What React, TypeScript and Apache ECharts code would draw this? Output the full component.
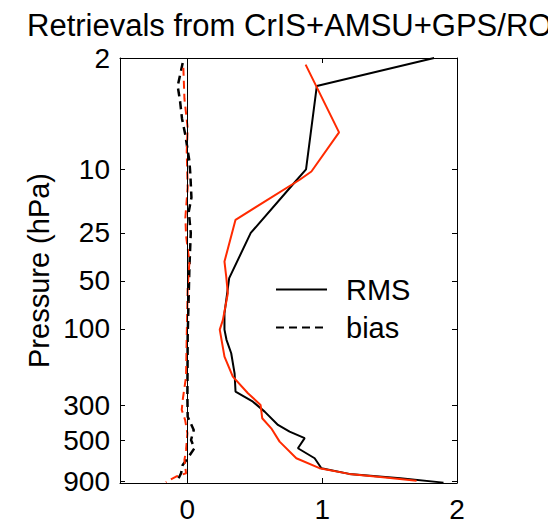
import React, { useEffect, useRef } from "react";
import * as echarts from "echarts";

const chartTitle = "Retrievals from CrIS+AMSU+GPS/RO";
const yAxisName = "Pressure (hPa)";
const pressureTicks = [2, 10, 25, 50, 100, 300, 500, 900];
const xTicks = [0, 1, 2];
const legendNames = ["RMS", "bias"];

// black: RMS (solid) and bias (dashed)
const blackRmsP = [2, 3, 10, 12.2, 25, 48, 80, 101, 117, 142, 190, 247, 286, 330, 400, 441, 484, 560, 647, 747, 811, 863, 920];
const blackRmsV = [1.83, 0.96, 0.88, 0.79, 0.47, 0.31, 0.275, 0.275, 0.29, 0.325, 0.35, 0.357, 0.486, 0.573, 0.672, 0.758, 0.87, 0.82, 0.944, 0.994, 1.2, 1.58, 1.9];
const blackBiasP = [2.15, 3.0, 3.75, 4.8, 6.1, 8.9, 10.8, 15, 18.4, 25, 41, 112, 266, 355, 430, 497, 560, 647, 713, 804, 888];
const blackBiasV = [-0.035, -0.072, -0.054, -0.04, -0.015, 0.015, 0.022, 0.03, 0.01, 0.025, 0.015, 0.002, 0.0, 0.002, 0.047, 0.027, 0.052, 0.002, -0.035, -0.047, -0.072];

// red: RMS (solid) and bias (dashed)
const redRmsP = [2.2, 5.85, 10.3, 11.6, 20.7, 37.8, 47, 59.8, 88, 101, 149, 199, 253, 300, 363, 420, 509, 647, 747, 811, 851, 894];
const redRmsV = [0.877, 1.125, 0.92, 0.833, 0.357, 0.275, 0.288, 0.3, 0.263, 0.24, 0.275, 0.337, 0.449, 0.543, 0.555, 0.622, 0.684, 0.808, 0.98, 1.2, 1.45, 1.7];
const redBiasP = [2.3, 3.6, 5.5, 7.7, 13, 20, 26, 38, 55, 112, 199, 279, 322, 372, 451, 574, 663, 804, 843, 915];
const redBiasV = [-0.03, -0.022, 0.002, -0.005, 0.002, -0.015, -0.01, 0.015, 0.002, -0.005, -0.01, -0.035, -0.042, -0.017, 0, -0.01, -0.022, -0.01, -0.084, -0.16];

const FONT = "Liberation Sans";
const BLACK = "#000000";
const RED = "#ff2a00";

function pairs(v: number[], p: number[]) {
  return v.map((x, i) => [x, p[i]]);
}

export default function App() {
  const ref = useRef<HTMLDivElement>(null);
  useEffect(() => {
    if (!ref.current) return;
    const chart = echarts.init(ref.current, undefined, { renderer: "svg" });
    const axisLine = { show: true, onZero: false, lineStyle: { color: BLACK, width: 1 } };
    const xTick = { show: true, inside: true, length: 5, customValues: xTicks, lineStyle: { color: BLACK } };
    const yTick = { show: true, inside: true, length: 5, customValues: pressureTicks, lineStyle: { color: BLACK } };
    const labelStyle = { fontFamily: FONT, fontSize: 28, color: BLACK };
    chart.setOption({
      animation: false,
      backgroundColor: "#ffffff",
      title: {
        text: chartTitle,
        left: 22,
        top: 5,
        textStyle: { fontFamily: FONT, fontSize: 31, fontWeight: "normal", color: BLACK },
      },
      grid: { left: 120, right: 91, top: 58, bottom: 45 },
      legend: {
        data: legendNames,
        orient: "vertical",
        left: 270,
        top: 270,
        itemWidth: 51,
        itemHeight: 14,
        itemGap: 9,
        itemStyle: { opacity: 0 },
        textStyle: { fontFamily: FONT, fontSize: 29, color: BLACK, padding: [0, 0, 0, 14] },
      },
      xAxis: [
        {
          type: "value", min: -0.5, max: 2, position: "bottom",
          axisLine, axisTick: xTick,
          axisLabel: { ...labelStyle, customValues: xTicks, margin: 12 },
          splitLine: { show: false },
        },
        {
          type: "value", min: -0.5, max: 2, position: "top",
          axisLine, axisTick: xTick,
          axisLabel: { show: false },
          splitLine: { show: false },
        },
      ],
      yAxis: [
        {
          type: "log", logBase: 10, inverse: true, min: 2, max: 925, position: "left",
          axisLine, axisTick: yTick,
          axisLabel: { ...labelStyle, customValues: pressureTicks, margin: 10 },
          minorTick: { show: false },
          splitLine: { show: false },
          name: yAxisName,
          nameLocation: "middle",
          nameRotate: 90,
          nameGap: 67,
          nameMoveOverlap: false,
          nameTextStyle: { fontFamily: FONT, fontSize: 29, color: BLACK },
        },
        {
          type: "log", logBase: 10, inverse: true, min: 2, max: 925, position: "right",
          axisLine, axisTick: yTick,
          axisLabel: { show: false },
          minorTick: { show: false },
          splitLine: { show: false },
        },
      ],
      series: [
        {
          name: "RMS", type: "line", xAxisIndex: 0, yAxisIndex: 0,
          data: pairs(blackRmsV, blackRmsP), symbol: "none",
          lineStyle: { color: BLACK, width: 2 }, itemStyle: { color: BLACK },
        },
        {
          name: "bias", type: "line", xAxisIndex: 0, yAxisIndex: 0,
          data: pairs(blackBiasV, blackBiasP), symbol: "none",
          lineStyle: { color: BLACK, width: 2.5, type: [8, 5] }, itemStyle: { color: BLACK },
          markLine: {
            silent: true, symbol: "none", label: { show: false },
            lineStyle: { color: BLACK, width: 1, type: "solid" },
            data: [{ xAxis: 0 }],
          },
        },
        {
          name: "RMS (red)", type: "line", xAxisIndex: 0, yAxisIndex: 0,
          data: pairs(redRmsV, redRmsP), symbol: "none",
          lineStyle: { color: RED, width: 2 }, itemStyle: { color: RED },
        },
        {
          name: "bias (red)", type: "line", xAxisIndex: 0, yAxisIndex: 0,
          data: pairs(redBiasV, redBiasP), symbol: "none",
          lineStyle: { color: RED, width: 2, type: [8, 5] }, itemStyle: { color: RED },
        },
      ],
    });
    return () => chart.dispose();
  }, []);
  return (
    <div
      ref={ref}
      style={{ position: "fixed", left: 0, top: 0, width: 548, height: 528, background: "#fff" }}
    />
  );
}
